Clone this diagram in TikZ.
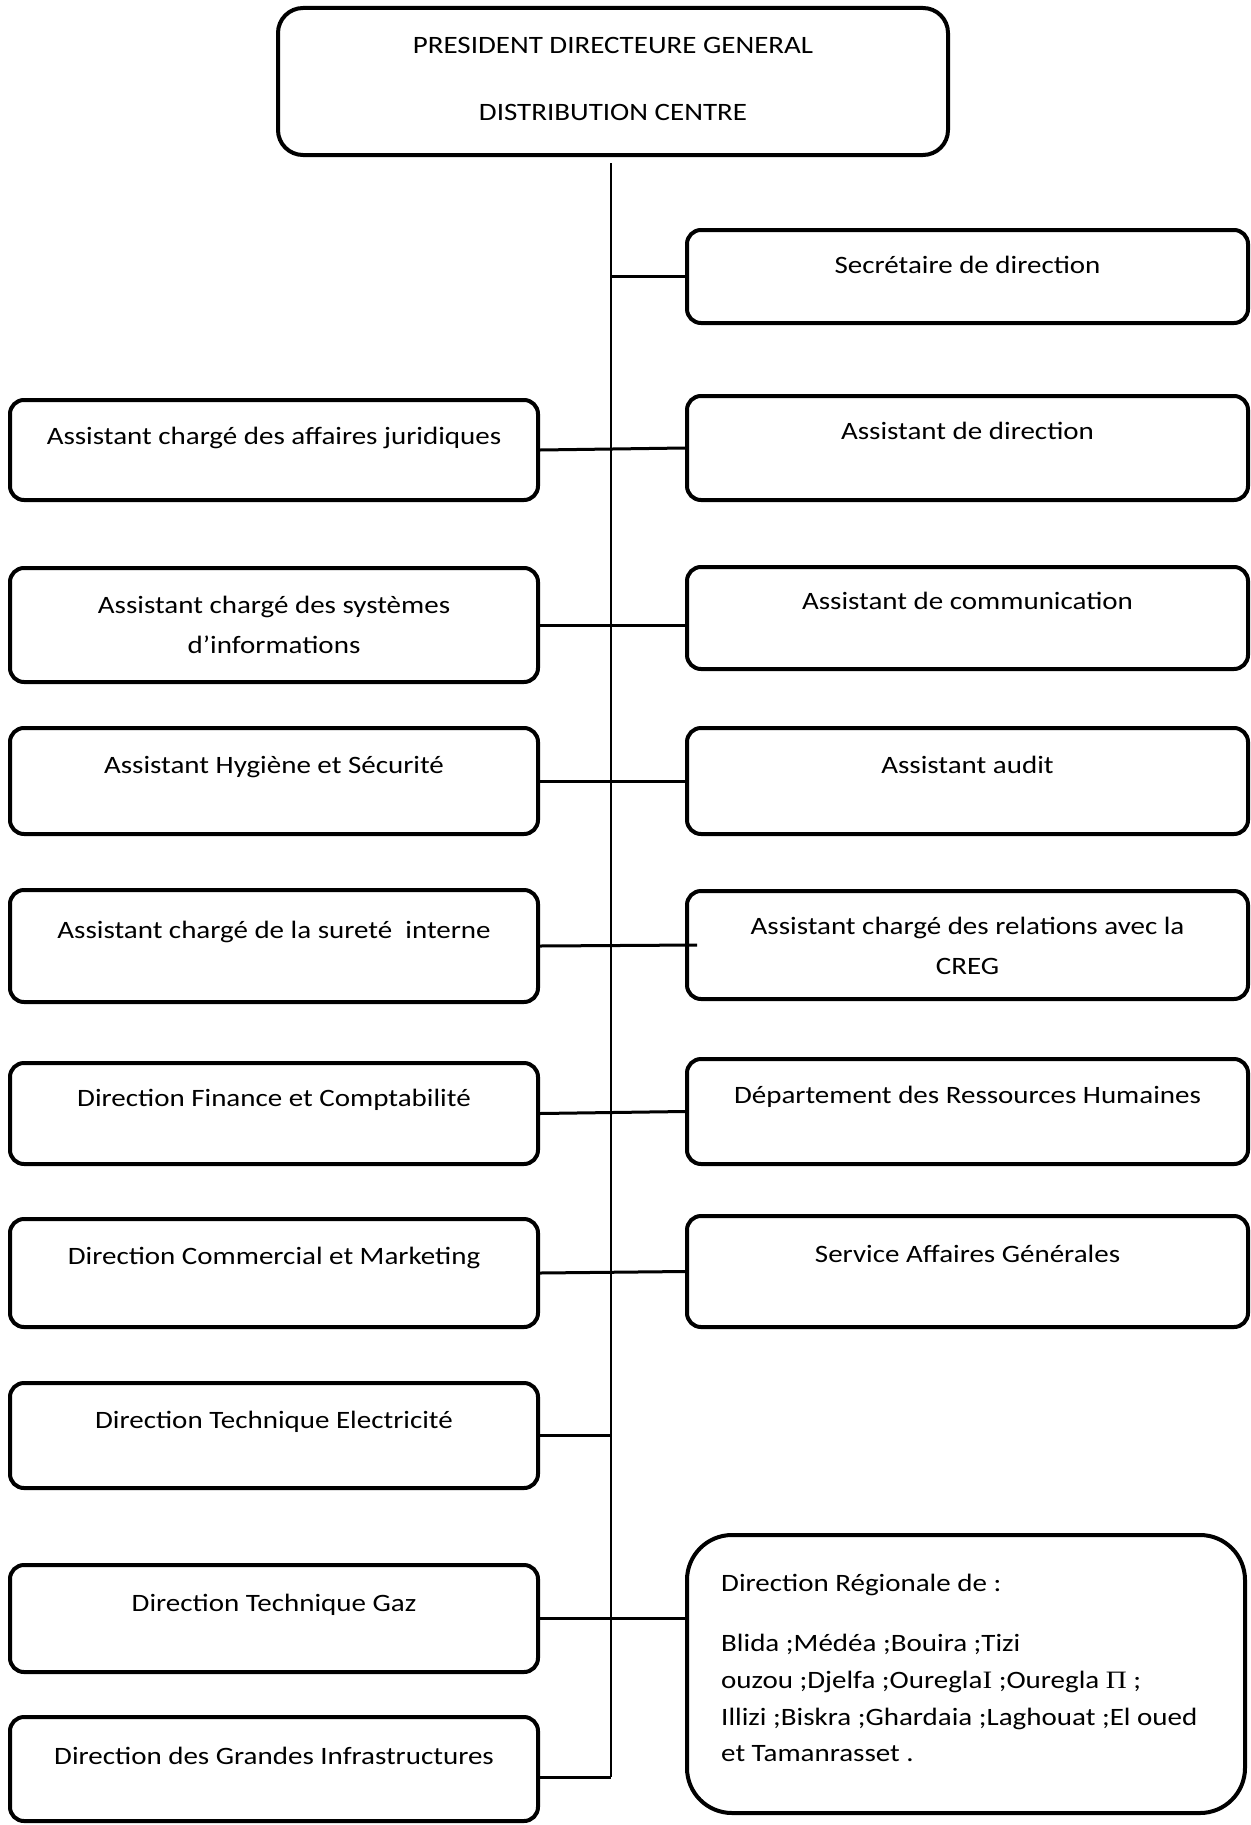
\documentclass[tikz,border=0pt]{standalone}
\usepackage{fontspec}
\setmainfont{Carlito}[FakeStretch=1.16]
\newfontfamily\romanfont{Liberation Serif}[FakeStretch=1.16]
\usetikzlibrary{calc}
\begin{document}
\begin{tikzpicture}[x=1pt,y=-1pt,
  box/.style={draw,line width=4pt,rounded corners=14pt,inner sep=0pt,fill=white},
  lbox/.style={box,minimum width=528pt},
  rbox/.style={box,minimum width=561pt},
  txt/.style={font=\fontsize{25}{40}\selectfont,anchor=base,inner sep=0pt},
  ltxt/.style={txt,anchor=base west},
  link/.style={line width=3pt},
  trunkline/.style={line width=2pt}]

\fill[white] (0,0) rectangle (1250,1825);
\useasboundingbox (0,0) rectangle (1250,1825);

% head of the organisation
\node[box,rounded corners=25pt,minimum width=670pt,minimum height=147pt] (pdg) at (613,81.5) {};
\node[txt] (pdg1) at ($(pdg.north)+(0,48)$) {PRESIDENT DIRECTEURE GENERAL};
\node[txt] (pdg2) at ($(pdg.north)+(0,115)$) {DISTRIBUTION CENTRE};

% right column
\node[rbox,minimum height=93pt]  (sec)  at (967.5,276.5) {};
\node[rbox,minimum height=104pt] (dir)  at (967.5,448) {};
\node[rbox,minimum height=102pt] (comm) at (967.5,618) {};
\node[rbox,minimum height=106pt] (aud)  at (967.5,781) {};
\node[rbox,minimum height=108pt] (creg) at (967.5,945) {};
\node[rbox,minimum height=105pt] (rh)   at (967.5,1111.5) {};
\node[rbox,minimum height=111pt] (sag)  at (967.5,1271.5) {};
\node[box,rounded corners=45pt,minimum width=558pt,minimum height=278pt] (reg) at (966,1674) {};

\node[txt] (secT)   at ($(sec.north)+(0,45)$)  {Secrétaire de direction};
\node[txt] (dirT)   at ($(dir.north)+(0,45)$)  {Assistant de direction};
\node[txt] (commT)  at ($(comm.north)+(0,44)$) {Assistant de communication};
\node[txt] (audT)   at ($(aud.north)+(0,47)$)  {Assistant audit};
\node[txt] (cregT1) at ($(creg.north)+(0,45)$) {Assistant chargé des relations avec la};
\node[txt] (cregT2) at ($(creg.north)+(0,85)$) {CREG};
\node[txt] (rhT)    at ($(rh.north)+(0,46)$)   {Département des Ressources Humaines};
\node[txt] (sagT)   at ($(sag.north)+(0,48)$)  {Service Affaires Générales};

\node[ltxt] (regT1) at (721,1591) {Direction Régionale de :};
\node[ltxt] (regT2) at (721,1651) {Blida ;Médéa ;Bouira ;Tizi};
\node[ltxt] (regT3) at (721,1688) {ouzou ;Djelfa ;Ouregla{\romanfont I} ;Ouregla {\romanfont Π} ;};
\node[ltxt] (regT4) at (721,1725) {Illizi ;Biskra ;Ghardaia ;Laghouat ;El oued};
\node[ltxt] (regT5) at (721,1761) {et Tamanrasset .};

% left column
\node[lbox,minimum height=100pt] (jur) at (274,450) {};
\node[lbox,minimum height=114pt] (sys) at (274,625) {};
\node[lbox,minimum height=106pt] (hyg) at (274,781) {};
\node[lbox,minimum height=112pt] (sur) at (274,946) {};
\node[lbox,minimum height=101pt] (fin) at (274,1113.5) {};
\node[lbox,minimum height=108pt] (com) at (274,1273) {};
\node[lbox,minimum height=105pt] (ele) at (274,1435.5) {};
\node[lbox,minimum height=107pt] (gaz) at (274,1618.5) {};
\node[lbox,minimum height=104pt] (gi)  at (274,1769) {};

\node[txt] (jurT)  at ($(jur.north)+(0,46)$) {Assistant chargé des affaires juridiques};
\node[txt] (sysT1) at ($(sys.north)+(0,47)$) {Assistant chargé des systèmes};
\node[txt] (sysT2) at ($(sys.north)+(0,87)$) {d’informations};
\node[txt] (hygT)  at ($(hyg.north)+(0,47)$) {Assistant Hygiène et Sécurité};
\node[txt] (surT)  at ($(sur.north)+(0,50)$) {Assistant chargé de la sureté~ interne};
\node[txt] (finT)  at ($(fin.north)+(0,45)$) {Direction Finance et Comptabilité};
\node[txt] (comT)  at ($(com.north)+(0,47)$) {Direction Commercial et Marketing};
\node[txt] (eleT)  at ($(ele.north)+(0,47)$) {Direction Technique Electricité};
\node[txt] (gazT)  at ($(gaz.north)+(0,48)$) {Direction Technique Gaz};
\node[txt] (giT)   at ($(gi.north)+(0,49)$)  {Direction des Grandes Infrastructures};

% central trunk
\coordinate (ttop) at (611,163);
\coordinate (tbot) at (611,1777);
\draw[trunkline] (ttop) -- (tbot);

% branches
\draw[link] (sec.west) -- (sec.west -| ttop);
\draw[link] (jur.east) -- (dir.west);
\draw[link] (sys.east) -- (sys.east -| comm.west);
\draw[link] (hyg.east) -- (aud.west);
\draw[link] (sur.east) -- ($(creg.west)+(12,0)$);
\draw[link] (fin.east) -- (rh.west);
\draw[link] (com.east) -- (sag.west);
\draw[link] (ele.east) -- (ele.east -| ttop);
\draw[link] (gaz.east) -- (gaz.east -| reg.west);
\draw[link] (gi.east |- tbot) -- (tbot);
\end{tikzpicture}
\end{document}
